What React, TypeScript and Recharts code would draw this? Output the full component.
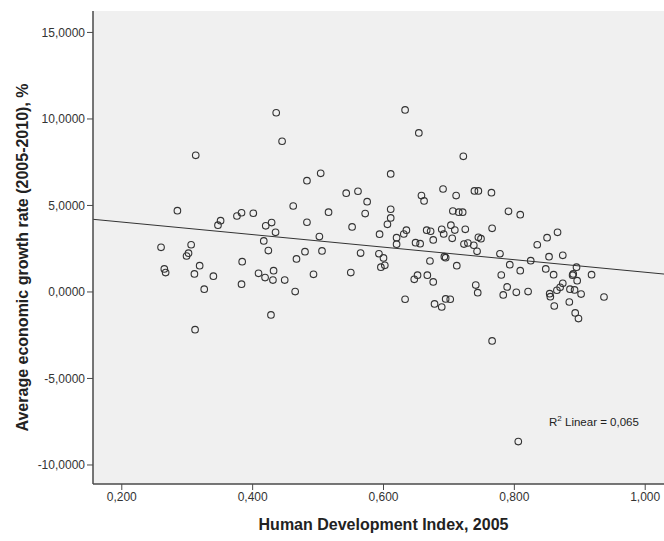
import React from 'react';
import {
  ScatterChart,
  Scatter,
  XAxis,
  YAxis,
  CartesianGrid,
  ReferenceLine,
  ReferenceDot,
} from 'recharts';

// Human Development Index, 2005
const hdi = [
  0.436, 0.445, 0.313, 0.483, 0.285, 0.462, 0.351, 0.347, 0.376, 0.383,
  0.401, 0.429, 0.42, 0.435, 0.483, 0.26, 0.306, 0.302, 0.299, 0.417,
  0.424, 0.48, 0.467, 0.265, 0.267, 0.319, 0.311, 0.34, 0.384, 0.409,
  0.419, 0.432, 0.431, 0.449, 0.326, 0.383, 0.465, 0.428, 0.312,
  0.633, 0.654, 0.722, 0.504, 0.611, 0.543, 0.561, 0.575, 0.516, 0.572,
  0.552, 0.611, 0.611, 0.606, 0.594, 0.502, 0.62, 0.631, 0.635, 0.62,
  0.658, 0.662, 0.691, 0.711, 0.739, 0.745, 0.706, 0.715, 0.721, 0.666,
  0.672, 0.689, 0.703, 0.709, 0.692, 0.705, 0.725, 0.676, 0.649, 0.656,
  0.723, 0.729, 0.738, 0.745, 0.743, 0.506, 0.565, 0.593, 0.6, 0.602,
  0.596, 0.671, 0.693, 0.695, 0.712, 0.493, 0.55, 0.652, 0.647, 0.667,
  0.676, 0.741, 0.744, 0.633, 0.678, 0.689, 0.695, 0.702,
  0.765, 0.791, 0.809, 0.766, 0.749, 0.778, 0.793, 0.825, 0.835, 0.85,
  0.866, 0.853, 0.874, 0.895, 0.89, 0.889, 0.918, 0.896, 0.848, 0.86,
  0.78, 0.809, 0.789, 0.783, 0.803, 0.821, 0.874, 0.87, 0.865, 0.854,
  0.855, 0.885, 0.892, 0.902, 0.937, 0.861, 0.884, 0.893, 0.898, 0.766, 0.806,
];

// Average economic growth rate (2005-2010), %
const growth = [
  10.36, 8.71, 7.9, 6.43, 4.7, 4.97, 4.12, 3.86, 4.39, 4.58,
  4.55, 4.01, 3.82, 3.45, 4.03, 2.58, 2.73, 2.24, 2.08, 2.95,
  2.39, 2.33, 1.91, 1.33, 1.12, 1.52, 1.04, 0.91, 1.75, 1.08,
  0.83, 1.23, 0.69, 0.69, 0.16, 0.45, 0.02, -1.33, -2.18,
  10.52, 9.19, 7.84, 6.86, 6.82, 5.71, 5.82, 5.22, 4.61, 4.53,
  3.76, 4.78, 4.28, 3.91, 3.34, 3.2, 3.14, 3.35, 3.57, 2.76,
  5.57, 5.26, 5.95, 5.57, 5.84, 5.84, 4.68, 4.61, 4.61, 3.57,
  3.51, 3.62, 3.86, 3.58, 3.35, 3.1, 3.62, 3.01, 2.85, 2.79,
  2.77, 2.83, 2.7, 3.16, 2.35, 2.37, 2.25, 2.21, 1.97, 1.54,
  1.43, 1.79, 2.04, 1.98, 1.52, 1.02, 1.12, 0.97, 0.73, 0.97,
  0.58, 0.4, -0.04, -0.42, -0.69, -0.87, -0.4, -0.42,
  5.74, 4.66, 4.47, 3.68, 3.08, 2.21, 1.58, 1.81, 2.73, 3.14,
  3.45, 2.04, 2.12, 1.43, 1.04, 0.97, 1.0, 0.65, 1.33, 1.0,
  0.98, 1.23, 0.29, -0.17, -0.02, 0.02, 0.5, 0.27, 0.1, -0.1,
  -0.27, 0.16, 0.12, -0.12, -0.29, -0.81, -0.58, -1.21, -1.54, -2.83, -8.65,
];

const xTicks = [0.2, 0.4, 0.6, 0.8, 1.0];
const yTicks = [-10, -5, 0, 5, 10, 15];

// fit line end points
const fitX = [0.156, 1.044];
const fitY = [4.2, 0.98];
const rSquared = '0,065';

const xDomain = [0.156, 1.044];
const yDomain = [-11.1, 16.24];

const points = hdi.map((x, i) => ({ x, y: growth[i] }));

const FONT = '"Liberation Sans", Arial, sans-serif';
const titleStyle = { fontFamily: FONT, fontWeight: 'bold', fontSize: 16, fill: '#222' };

const OpenCircle = (props: any) => {
  const { cx, cy } = props;
  return <circle cx={cx} cy={cy} r={3.3} fill="none" stroke="#333" strokeWidth={1.1} />;
};

const RLabel = (props: any) => (
  <text x={props.cx} y={props.cy} fontFamily={FONT} fontSize={11.5} fill="#222">
    R<tspan dy={-5} fontSize={8}>2</tspan>
    <tspan dy={5}> Linear = {rSquared}</tspan>
  </text>
);

// y title, a little below the plot's middle as in the picture
const YTitle = (props: any) => {
  const { viewBox } = props;
  const x = 22;
  const y = viewBox.y + viewBox.height / 2 + 10;
  return (
    <text
      x={x}
      y={y}
      transform={`rotate(-90, ${x}, ${y})`}
      textAnchor="middle"
      dominantBaseline="central"
      style={titleStyle}
    >
      Average economic growth rate (2005-2010), %
    </text>
  );
};

export default function App() {
  return (
    <div
      style={{
        position: 'fixed',
        left: 0,
        top: 0,
        width: 664,
        height: 541,
        overflow: 'hidden',
        background: '#fff',
      }}
    >
      <ScatterChart
        width={700}
        height={541}
        margin={{ top: 11, right: 26, left: 0, bottom: 0 }}
        style={{ fontFamily: FONT }}
      >
        <CartesianGrid fill="#f0f0f0" fillOpacity={1} horizontal={false} vertical={false} />
        <XAxis
          type="number"
          dataKey="x"
          domain={xDomain}
          ticks={xTicks}
          allowDataOverflow
          height={57}
          tickFormatter={(v: number) => v.toFixed(3).replace('.', ',')}
          tick={{ fill: '#333', fontSize: 12 }}
          axisLine={{ stroke: '#4a4a4a', strokeWidth: 1.5 }}
          tickLine={{ stroke: '#4a4a4a' }}
          label={{
            value: 'Human Development Index, 2005',
            position: 'insideBottom',
            offset: 11,
            style: titleStyle,
          }}
        />
        <XAxis
          xAxisId="top"
          orientation="top"
          type="number"
          domain={xDomain}
          allowDataOverflow
          height={0}
          tick={false}
          tickLine={false}
          axisLine={{ stroke: '#4a4a4a', strokeWidth: 1.5 }}
        />
        <YAxis
          type="number"
          dataKey="y"
          domain={yDomain}
          ticks={yTicks}
          allowDataOverflow
          width={93}
          tickFormatter={(v: number) => v.toFixed(4).replace('.', ',')}
          tick={{ fill: '#333', fontSize: 12 }}
          axisLine={{ stroke: '#4a4a4a', strokeWidth: 1.5 }}
          tickLine={{ stroke: '#4a4a4a' }}
          label={<YTitle />}
        />
        <ReferenceLine
          segment={[
            { x: fitX[0], y: fitY[0] },
            { x: fitX[1], y: fitY[1] },
          ]}
          stroke="#333"
          strokeWidth={1}
        />
        <Scatter data={points} shape={OpenCircle} isAnimationActive={false} />
        <ReferenceDot x={0.853} y={-7.75} r={0} shape={RLabel} />
      </ScatterChart>
    </div>
  );
}
